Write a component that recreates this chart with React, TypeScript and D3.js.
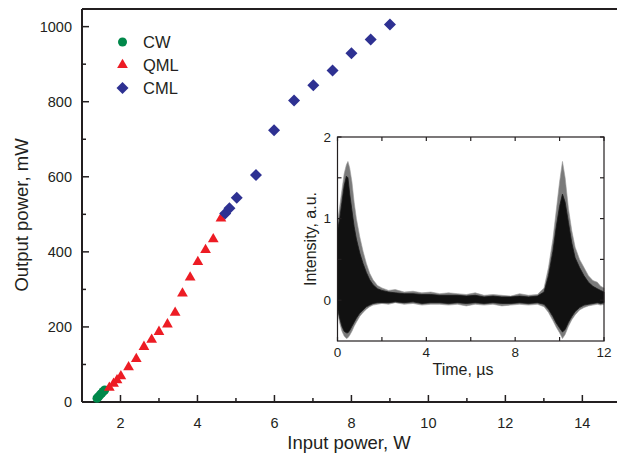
import React from 'react';
import * as d3 from 'd3';

// main chart data (input power W, output power mW)
const cwX = [1.39, 1.43, 1.47, 1.51, 1.55, 1.59];
const cwY = [10, 14, 19, 23, 28, 32];
const qmlX = [1.71, 1.82, 1.91, 2.01, 2.21, 2.41, 2.61, 2.81, 3.0, 3.22, 3.42, 3.61, 3.81, 4.01, 4.21, 4.41, 4.61];
const qmlY = [38, 49, 58, 69, 93, 115, 147, 166, 187, 207, 238, 289, 332, 373, 405, 434, 489];
const cmlX = [4.72, 4.83, 5.02, 5.52, 5.99, 6.51, 7.01, 7.51, 8.0, 8.5, 9.0];
const cmlY = [502, 516, 544, 605, 724, 803, 844, 883, 929, 966, 1006];

const xTicks = [2, 4, 6, 8, 10, 12, 14];
const yTicks = [0, 200, 400, 600, 800, 1000];

// inset trace envelopes (time µs, intensity a.u.)
const traceT = [0, 0.1, 0.2, 0.3, 0.4, 0.47, 0.55, 0.65, 0.75, 0.85, 1.0, 1.15, 1.3, 1.45, 1.6, 1.8, 2.0, 2.3, 2.6, 3.0, 3.4, 3.8, 4.2, 4.6, 5.0, 5.4, 5.8, 6.2, 6.6, 7.0, 7.4, 7.8, 8.2, 8.6, 9.0, 9.3, 9.5, 9.7, 9.85, 10.0, 10.13, 10.25, 10.4, 10.55, 10.7, 10.9, 11.1, 11.3, 11.5, 11.7, 11.85, 12.0];
const outerHigh = [0.95, 1.15, 1.35, 1.55, 1.66, 1.7, 1.62, 1.45, 1.2, 1.0, 0.78, 0.6, 0.45, 0.33, 0.25, 0.18, 0.15, 0.12, 0.13, 0.1, 0.11, 0.09, 0.1, 0.08, 0.09, 0.08, 0.07, 0.09, 0.06, 0.07, 0.06, 0.05, 0.08, 0.06, 0.07, 0.15, 0.4, 0.75, 1.1, 1.45, 1.7, 1.5, 1.12, 0.85, 0.65, 0.5, 0.4, 0.3, 0.24, 0.22, 0.17, 0.15];
const outerLow = [-0.15, -0.28, -0.38, -0.44, -0.47, -0.46, -0.43, -0.38, -0.32, -0.27, -0.2, -0.15, -0.11, -0.08, -0.06, -0.05, -0.04, -0.05, -0.03, -0.05, -0.04, -0.06, -0.05, -0.05, -0.06, -0.05, -0.07, -0.05, -0.06, -0.05, -0.07, -0.06, -0.05, -0.06, -0.05, -0.08, -0.15, -0.25, -0.33, -0.4, -0.47, -0.42, -0.32, -0.24, -0.18, -0.12, -0.09, -0.07, -0.06, -0.05, -0.06, -0.05];
const innerHigh = [0.85, 1.0, 1.2, 1.4, 1.52, 1.5, 1.3, 1.1, 0.9, 0.75, 0.58, 0.45, 0.34, 0.25, 0.19, 0.14, 0.12, 0.1, 0.09, 0.08, 0.08, 0.07, 0.07, 0.06, 0.06, 0.06, 0.05, 0.06, 0.04, 0.05, 0.04, 0.04, 0.05, 0.04, 0.05, 0.1, 0.3, 0.6, 0.9, 1.15, 1.3, 1.2, 0.95, 0.7, 0.52, 0.4, 0.3, 0.22, 0.17, 0.14, 0.12, 0.1];
const innerLow = [-0.1, -0.22, -0.32, -0.38, -0.4, -0.4, -0.37, -0.32, -0.27, -0.22, -0.16, -0.12, -0.08, -0.06, -0.04, -0.03, -0.03, -0.03, -0.02, -0.03, -0.02, -0.04, -0.03, -0.03, -0.04, -0.03, -0.04, -0.03, -0.04, -0.03, -0.04, -0.04, -0.03, -0.04, -0.03, -0.05, -0.11, -0.2, -0.28, -0.34, -0.39, -0.36, -0.27, -0.2, -0.14, -0.09, -0.06, -0.05, -0.04, -0.03, -0.04, -0.03];

const insetXTicks = [0, 2, 4, 6, 8, 10, 12];
const insetXLabels = [0, 4, 8, 12];
const insetYTicks = [0, 0.5, 1, 1.5, 2];
const insetYLabels = [0, 1, 2];

const ink = '#231f20';
const font = 'Liberation Sans, Arial, sans-serif';

export default function App() {
  const x = d3.scaleLinear().domain([1, 14.9]).range([82, 617]);
  const y = d3.scaleLinear().domain([0, 1047]).range([402, 9]);

  const circle = d3.symbol().type(d3.symbolCircle).size(64)();
  const tri = d3.symbol().type(d3.symbolTriangle).size(50)();
  const diamond = d3.symbol().type(d3.symbolSquare).size(72)();

  // inset scales
  const ix = d3.scaleLinear().domain([0, 12]).range([337.5, 604]);
  const iy = d3.scaleLinear().domain([-0.5, 2]).range([341, 137]);
  const outerArea = d3.area<number>()
    .x((d, i) => ix(traceT[i]))
    .y0((d, i) => iy(outerLow[i]))
    .y1((d, i) => iy(outerHigh[i]));
  const innerArea = d3.area<number>()
    .x((d, i) => ix(traceT[i]))
    .y0((d, i) => iy(innerLow[i]))
    .y1((d, i) => iy(innerHigh[i]));

  return (
    <svg width={617} height={454} style={{ position: 'absolute', left: 0, top: 0, background: '#fff' }} fontFamily={font}>
      {/* main frame */}
      <g stroke={ink} strokeWidth={2} fill="none">
        <line x1={x(1)} x2={617} y1={y(0)} y2={y(0)} />
        <line x1={x(1)} x2={x(1)} y1={y(0)} y2={9} />
        <line x1={x(1)} x2={617} y1={9} y2={9} />
      </g>
      {/* x ticks */}
      {d3.range(2, 15).map((v) => (
        <line key={'xt' + v} x1={x(v)} x2={x(v)} y1={y(0)} y2={y(0) - (v % 2 === 0 ? 7 : 4)} stroke={ink} strokeWidth={1.5} />
      ))}
      {xTicks.map((v) => (
        <text key={'xl' + v} x={x(v)} y={y(0) + 26} textAnchor="middle" fontSize={14.5} fill={ink}>{v}</text>
      ))}
      {/* y ticks */}
      {d3.range(100, 1001, 100).map((v) => (
        <line key={'yt' + v} x1={x(1)} x2={x(1) + (v % 200 === 0 ? 7 : 4)} y1={y(v)} y2={y(v)} stroke={ink} strokeWidth={1.5} />
      ))}
      {yTicks.map((v) => (
        <text key={'yl' + v} x={72} y={y(v)} dy="0.36em" textAnchor="end" fontSize={14.5} fill={ink}>{v}</text>
      ))}
      <text x={349} y={449} textAnchor="middle" fontSize={18.5} fill={ink}>Input power, W</text>
      <text transform="translate(28,215) rotate(-90)" textAnchor="middle" fontSize={18.5} fill={ink}>Output power, mW</text>

      {/* markers */}
      {cwX.map((v, i) => (
        <path key={'cw' + i} d={circle} transform={`translate(${x(v)},${y(cwY[i])})`} fill="#00884a" />
      ))}
      {qmlX.map((v, i) => (
        <path key={'q' + i} d={tri} transform={`translate(${x(v)},${y(qmlY[i])})`} fill="#ed1c24" />
      ))}
      {cmlX.map((v, i) => (
        <path key={'c' + i} d={diamond} transform={`translate(${x(v)},${y(cmlY[i])}) rotate(45)`} fill="#2e3192" />
      ))}

      {/* legend */}
      <path d={circle} transform="translate(122.5,42)" fill="#00884a" />
      <text x={143} y={42} dy="0.36em" fontSize={16.5} fill={ink}>CW</text>
      <path d={tri} transform="translate(122.5,65)" fill="#ed1c24" />
      <text x={143} y={65} dy="0.36em" fontSize={16.5} fill={ink}>QML</text>
      <path d={diamond} transform="translate(122.5,88) rotate(45)" fill="#2e3192" />
      <text x={143} y={88} dy="0.36em" fontSize={16.5} fill={ink}>CML</text>

      {/* inset */}
      <rect x={ix(0)} y={iy(2)} width={ix(12) - ix(0)} height={iy(-0.5) - iy(2)} fill="#fff" />
      <path d={outerArea(traceT) || ''} fill="#7a7a7a" stroke="#9a9a9a" strokeWidth={0.6} />
      <path d={innerArea(traceT) || ''} fill="#111" stroke="#1a1a1a" strokeWidth={0.8} />
      <rect x={ix(0)} y={iy(2)} width={ix(12) - ix(0)} height={iy(-0.5) - iy(2)} fill="none" stroke={ink} strokeWidth={1.2} />
      {insetXTicks.map((v) => (
        <g key={'ixt' + v} stroke={ink} strokeWidth={1.2}>
          <line x1={ix(v)} x2={ix(v)} y1={iy(-0.5)} y2={iy(-0.5) - 4} />
          <line x1={ix(v)} x2={ix(v)} y1={iy(2)} y2={iy(2) + 4} />
        </g>
      ))}
      {insetYTicks.map((v) => (
        <g key={'iyt' + v} stroke={ink} strokeWidth={1.2}>
          <line x1={ix(0)} x2={ix(0) + 4} y1={iy(v)} y2={iy(v)} />
          <line x1={ix(12)} x2={ix(12) - 4} y1={iy(v)} y2={iy(v)} />
        </g>
      ))}
      {insetXLabels.map((v) => (
        <text key={'ixl' + v} x={ix(v)} y={iy(-0.5) + 16} textAnchor="middle" fontSize={13.5} fill={ink}>{v}</text>
      ))}
      {insetYLabels.map((v) => (
        <text key={'iyl' + v} x={331} y={iy(v)} dy="0.36em" textAnchor="end" fontSize={13.5} fill={ink}>{v}</text>
      ))}
      <text x={463} y={375} textAnchor="middle" fontSize={16} fill={ink}>Time, µs</text>
      <text transform="translate(316,239) rotate(-90)" textAnchor="middle" fontSize={16} fill={ink}>Intensity, a.u.</text>
    </svg>
  );
}
